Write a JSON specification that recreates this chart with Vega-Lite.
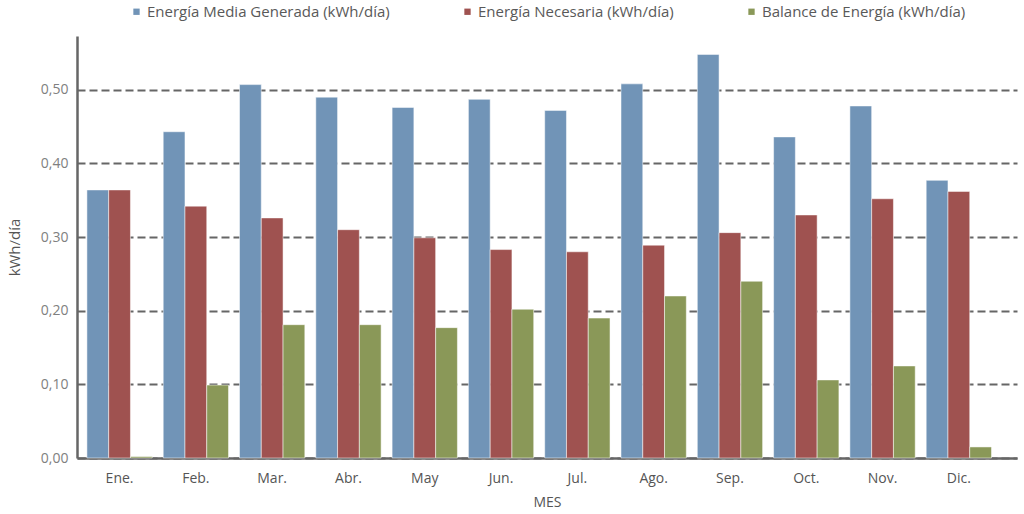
{
  "$schema": "https://vega.github.io/schema/vega-lite/v6.json",
  "autosize": "none",
  "width": 940,
  "height": 422,
  "padding": {"left": 77, "top": 36, "right": 7, "bottom": 56},
  "background": "white",
  "data": {
    "values": [
      {"mes": "Ene.", "serie": "Energía Media Generada (kWh/día)", "valor": 0.364},
      {"mes": "Ene.", "serie": "Energía Necesaria (kWh/día)", "valor": 0.364},
      {"mes": "Ene.", "serie": "Balance de Energía (kWh/día)", "valor": 0.002},
      {"mes": "Feb.", "serie": "Energía Media Generada (kWh/día)", "valor": 0.443},
      {"mes": "Feb.", "serie": "Energía Necesaria (kWh/día)", "valor": 0.342},
      {"mes": "Feb.", "serie": "Balance de Energía (kWh/día)", "valor": 0.099},
      {"mes": "Mar.", "serie": "Energía Media Generada (kWh/día)", "valor": 0.507},
      {"mes": "Mar.", "serie": "Energía Necesaria (kWh/día)", "valor": 0.326},
      {"mes": "Mar.", "serie": "Balance de Energía (kWh/día)", "valor": 0.181},
      {"mes": "Abr.", "serie": "Energía Media Generada (kWh/día)", "valor": 0.490},
      {"mes": "Abr.", "serie": "Energía Necesaria (kWh/día)", "valor": 0.310},
      {"mes": "Abr.", "serie": "Balance de Energía (kWh/día)", "valor": 0.181},
      {"mes": "May", "serie": "Energía Media Generada (kWh/día)", "valor": 0.476},
      {"mes": "May", "serie": "Energía Necesaria (kWh/día)", "valor": 0.299},
      {"mes": "May", "serie": "Balance de Energía (kWh/día)", "valor": 0.177},
      {"mes": "Jun.", "serie": "Energía Media Generada (kWh/día)", "valor": 0.487},
      {"mes": "Jun.", "serie": "Energía Necesaria (kWh/día)", "valor": 0.283},
      {"mes": "Jun.", "serie": "Balance de Energía (kWh/día)", "valor": 0.202},
      {"mes": "Jul.", "serie": "Energía Media Generada (kWh/día)", "valor": 0.472},
      {"mes": "Jul.", "serie": "Energía Necesaria (kWh/día)", "valor": 0.280},
      {"mes": "Jul.", "serie": "Balance de Energía (kWh/día)", "valor": 0.190},
      {"mes": "Ago.", "serie": "Energía Media Generada (kWh/día)", "valor": 0.508},
      {"mes": "Ago.", "serie": "Energía Necesaria (kWh/día)", "valor": 0.289},
      {"mes": "Ago.", "serie": "Balance de Energía (kWh/día)", "valor": 0.220},
      {"mes": "Sep.", "serie": "Energía Media Generada (kWh/día)", "valor": 0.548},
      {"mes": "Sep.", "serie": "Energía Necesaria (kWh/día)", "valor": 0.306},
      {"mes": "Sep.", "serie": "Balance de Energía (kWh/día)", "valor": 0.240},
      {"mes": "Oct.", "serie": "Energía Media Generada (kWh/día)", "valor": 0.436},
      {"mes": "Oct.", "serie": "Energía Necesaria (kWh/día)", "valor": 0.330},
      {"mes": "Oct.", "serie": "Balance de Energía (kWh/día)", "valor": 0.106},
      {"mes": "Nov.", "serie": "Energía Media Generada (kWh/día)", "valor": 0.478},
      {"mes": "Nov.", "serie": "Energía Necesaria (kWh/día)", "valor": 0.352},
      {"mes": "Nov.", "serie": "Balance de Energía (kWh/día)", "valor": 0.125},
      {"mes": "Dic.", "serie": "Energía Media Generada (kWh/día)", "valor": 0.377},
      {"mes": "Dic.", "serie": "Energía Necesaria (kWh/día)", "valor": 0.362},
      {"mes": "Dic.", "serie": "Balance de Energía (kWh/día)", "valor": 0.015}
    ]
  },
  "mark": {"type": "bar", "stroke": "#ffffff", "strokeOpacity": 0.5, "strokeWidth": 1},
  "encoding": {
    "x": {
      "field": "mes",
      "type": "nominal",
      "sort": null,
      "scale": {"paddingInner": 0.144, "paddingOuter": 0.232, "align": 0.28},
      "axis": {
        "title": "MES",
        "labelAngle": 0,
        "ticks": false,
        "labelPadding": 13,
        "labelFontSize": 14,
        "labelColor": "#555555",
        "titleFontSize": 14,
        "titleFontWeight": "normal",
        "titleColor": "#555555",
        "titlePadding": 10,
        "domainColor": "#666666",
        "domainWidth": 2.5
      }
    },
    "xOffset": {
      "field": "serie",
      "type": "nominal",
      "sort": ["Energía Media Generada (kWh/día)", "Energía Necesaria (kWh/día)", "Balance de Energía (kWh/día)"],
      "scale": {"paddingInner": 0, "paddingOuter": 0}
    },
    "y": {
      "field": "valor",
      "type": "quantitative",
      "scale": {"domain": [0, 0.573], "nice": false},
      "axis": {
        "title": "kWh/día",
        "values": [0, 0.1, 0.2, 0.3, 0.4, 0.5],
        "labelExpr": "replace(format(datum.value, '.2f'), '.', ',')",
        "ticks": false,
        "labelPadding": 9,
        "labelFontSize": 14,
        "labelColor": "#808080",
        "titleFontSize": 15,
        "titleFontWeight": "normal",
        "titleColor": "#555555",
        "titlePadding": 18,
        "domainColor": "#666666",
        "domainWidth": 2.5,
        "grid": true,
        "gridColor": "#666666",
        "gridWidth": 2,
        "gridDash": [8, 4]
      }
    },
    "color": {
      "field": "serie",
      "type": "nominal",
      "sort": ["Energía Media Generada (kWh/día)", "Energía Necesaria (kWh/día)", "Balance de Energía (kWh/día)"],
      "scale": {
        "domain": ["Energía Media Generada (kWh/día)", "Energía Necesaria (kWh/día)", "Balance de Energía (kWh/día)"],
        "range": ["#7194b7", "#9f5250", "#8a9858"]
      },
      "legend": {
        "title": null,
        "orient": "none",
        "direction": "horizontal",
        "legendX": 52,
        "legendY": -32,
        "symbolType": "square",
        "symbolSize": 40,
        "symbolStrokeWidth": 0,
        "labelFontSize": 15,
        "labelColor": "#595959",
        "labelLimit": 400,
        "labelOffset": 3,
        "columnPadding": 70
      }
    }
  },
  "config": {
    "font": "Open Sans",
    "view": {"stroke": null},
    "axis": {"labelFont": "Open Sans", "titleFont": "Open Sans"},
    "legend": {"labelFont": "Open Sans"}
  }
}
